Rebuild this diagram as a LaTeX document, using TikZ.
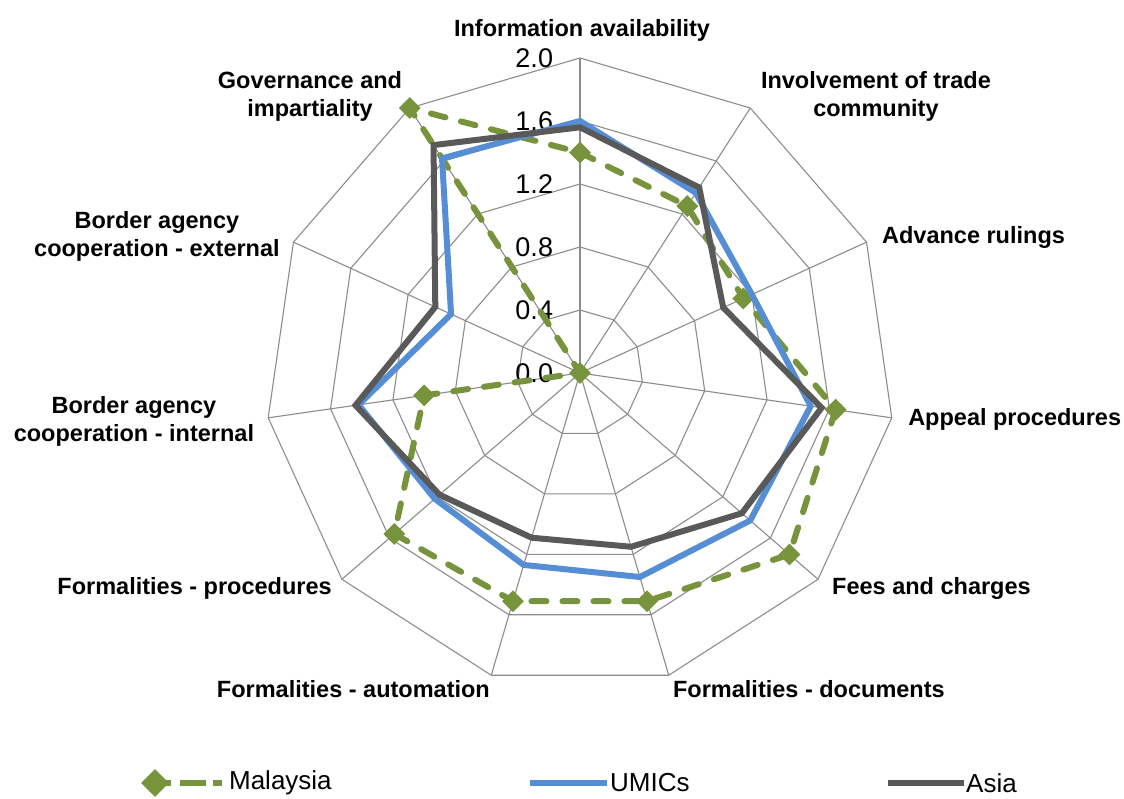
\documentclass[tikz,border=0pt]{standalone}
\usepackage{fontspec}
\setmainfont{Liberation Sans}
\usetikzlibrary{shapes.geometric}
\definecolor{malgreen}{HTML}{77933C}
\definecolor{umicblue}{HTML}{558ED5}
\definecolor{asiagrey}{HTML}{595959}
\definecolor{webgrey}{HTML}{8C8C8C}

\begin{document}
\begin{tikzpicture}[x=157.5pt,y=157.5pt,
	web/.style={draw=webgrey,line width=1.1pt},
	axislabel/.style={font=\fontsize{23.5}{28}\selectfont\bfseries,align=center,inner sep=0pt},
	ticklabel/.style={font=\fontsize{27}{30}\selectfont,anchor=east,inner sep=0pt},
	legendlabel/.style={font=\fontsize{26}{30}\selectfont,anchor=west,inner sep=0pt},
	malaysia/.style={malgreen,line width=6pt,line cap=round,dash pattern=on 15pt off 16pt},
	umics/.style={umicblue,line width=6pt},
	asia/.style={asiagrey,line width=6pt},
	marker/.style={diamond,fill=malgreen,inner sep=0pt,minimum size=22pt}]

	\useasboundingbox (-3.6825,-2.6984) rectangle (3.4540,2.3683);

	% web: spokes and rings
	\foreach \k in {0,...,10}
		\draw[web] (0,0)--({90-\k*360/11}:2);
	\foreach \r in {0.4,0.8,1.2,1.6,2.0}
		\draw[web] (90:\r) \foreach \k in {1,...,10}{--({90-\k*360/11}:\r)} --cycle;

	% scale
	\foreach \r [count=\i] in {0.0,0.4,0.8,1.2,1.6,2.0}
		\node[ticklabel] (tick\i) at (-0.17,\r){\r};

	% series values, clockwise from the top
	\foreach \v [count=\k from 0] in {1.40,1.26,1.14,1.64,1.76,1.51,1.51,1.56,1.00,0.00,2.00}
		\coordinate (my\k) at ({90-\k*360/11}:\v);
	\foreach \v [count=\k from 0] in {1.60,1.36,1.20,1.48,1.43,1.35,1.27,1.22,1.42,0.90,1.62}
		\coordinate (um\k) at ({90-\k*360/11}:\v);
	\foreach \v [count=\k from 0] in {1.56,1.40,1.00,1.55,1.36,1.15,1.09,1.18,1.44,1.01,1.72}
		\coordinate (as\k) at ({90-\k*360/11}:\v);

	\draw[malaysia] (my0) \foreach \k in {1,...,10}{--(my\k)} --cycle;
	\foreach \k in {0,...,10}
		\node[marker] (mk\k) at (my\k){};
	\draw[umics] (um0) \foreach \k in {1,...,10}{--(um\k)} --cycle;
	\draw[asia] (as0) \foreach \k in {1,...,10}{--(as\k)} --cycle;

	% axis names
	\node[axislabel] (infoAvail) at (0.013,2.178){Information availability};
	\node[axislabel] (tradeComm) at (1.879,1.759){Involvement of trade\\community};
	\node[axislabel,anchor=west] (advRulings) at (1.917,0.863){Advance rulings};
	\node[axislabel,anchor=west] (appealProc) at (2.083,-0.292){Appeal procedures};
	\node[axislabel,anchor=west] (feesCharges) at (1.600,-1.365){Fees and charges};
	\node[axislabel,anchor=west] (formDocs) at (0.590,-2.006){Formalities - documents};
	\node[axislabel,anchor=east] (formAuto) at (-0.571,-2.006){Formalities - automation};
	\node[axislabel,anchor=east] (formProc) at (-1.575,-1.365){Formalities - procedures};
	\node[axislabel] (borderInt) at (-2.832,-0.305){Border agency\\cooperation - internal};
	\node[axislabel] (borderExt) at (-2.686,0.870){Border agency\\cooperation - external};
	\node[axislabel] (governance) at (-1.714,1.759){Governance and\\impartiality};

	% legend
	\coordinate (lgMyA) at (-2.598,-2.603);
	\coordinate (lgMyB) at (-2.540,-2.603);
	\coordinate (lgMyC) at (-2.375,-2.603);
	\coordinate (lgMyD) at (-2.330,-2.603);
	\coordinate (lgMyE) at (-2.273,-2.603);
	\node[marker,minimum size=28pt] (lgMy) at (-2.698,-2.603){};
	\draw[malgreen,line width=6pt] (lgMy.center)--(lgMyA) (lgMyB)--(lgMyC) (lgMyD)--(lgMyE);
	\node[legendlabel] (lgMyText) at (-2.229,-2.603){Malaysia};

	\coordinate (lgUmA) at (-0.317,-2.603);
	\coordinate (lgUmB) at (0.171,-2.603);
	\draw[umics] (lgUmA)--(lgUmB);
	\node[legendlabel] (lgUmText) at (0.190,-2.603){UMICs};

	\coordinate (lgAsA) at (1.956,-2.603);
	\coordinate (lgAsB) at (2.438,-2.603);
	\draw[asia] (lgAsA)--(lgAsB);
	\node[legendlabel] (lgAsText) at (2.451,-2.603){Asia};

\end{tikzpicture}
\end{document}
